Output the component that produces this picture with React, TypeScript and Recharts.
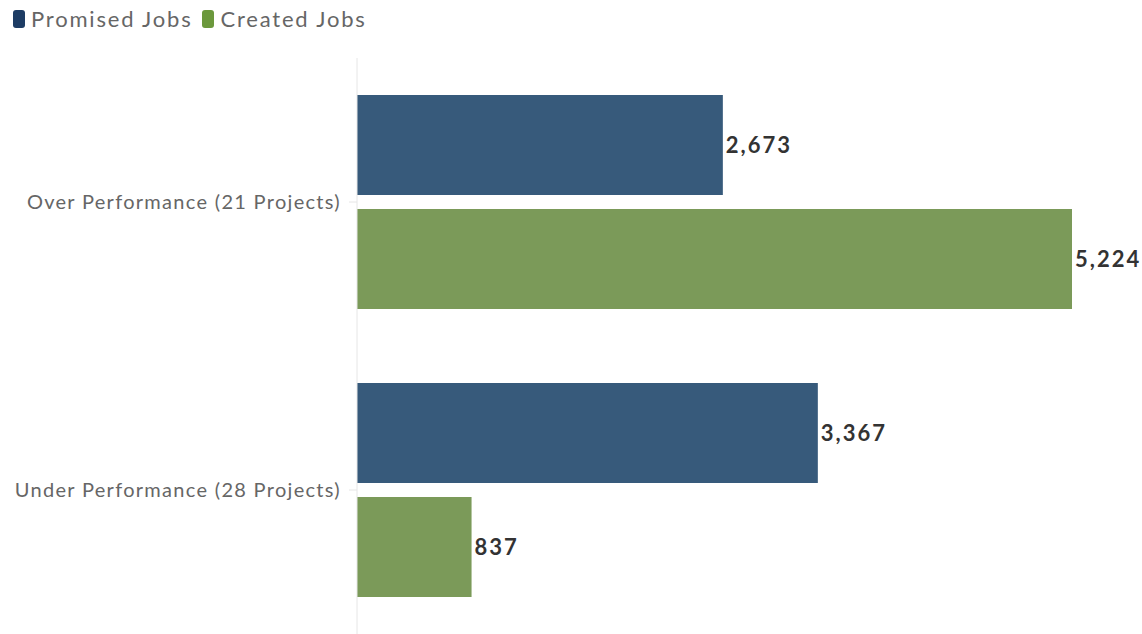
import { BarChart, Bar, XAxis, YAxis, LabelList } from 'recharts';

const categories = ['Over Performance (21 Projects)', 'Under Performance (28 Projects)'];
const promisedJobs = [2673, 3367];
const createdJobs = [5224, 837];

const PROMISED = '#375a7b';
const CREATED = '#7b9a59';
const PROMISED_KEY = '#1d3c64';
const CREATED_KEY = '#6b983c';
const FONT = 'Lato, "Open Sans", sans-serif';

const data = categories.map((name, i) => ({
  name,
  promised: promisedJobs[i],
  created: createdJobs[i],
}));

const fmt = (v: unknown) => Number(v).toLocaleString('en-US');

const legendItems = [
  { label: 'Promised Jobs', color: PROMISED_KEY },
  { label: 'Created Jobs', color: CREATED_KEY },
];

export default function App() {
  return (
    <div style={{ position: 'absolute', left: 0, top: 0, width: 1142, height: 634, background: '#fff', fontFamily: FONT }}>
      <div style={{ position: 'absolute', left: 13, top: 5, display: 'flex', alignItems: 'center', gap: 10, fontSize: 22, letterSpacing: 1.8, color: '#666' }}>
        {legendItems.map((it) => (
          <span key={it.label} style={{ display: 'flex', alignItems: 'center' }}>
            <span style={{ display: 'inline-block', width: 12, height: 18, borderRadius: 3, background: it.color, marginRight: 6 }} />
            {it.label}
          </span>
        ))}
      </div>
      <BarChart
        width={1142}
        height={634}
        data={data}
        layout="vertical"
        margin={{ top: 58, right: 70, bottom: 0, left: 0 }}
        barCategoryGap={37}
        barGap={14}
      >
        <XAxis type="number" hide domain={[0, 'dataMax']} />
        <YAxis
          type="category"
          dataKey="name"
          width={357}
          axisLine={{ stroke: '#e6e6e6' }}
          tickLine={{ stroke: '#e6e6e6' }}
          tickSize={8}
          tickMargin={8}
          tick={{ fill: '#666', fontSize: 20, fontFamily: FONT, letterSpacing: 1.3 }}
        />
        <Bar dataKey="promised" name="Promised Jobs" fill={PROMISED} isAnimationActive={false}>
          <LabelList dataKey="promised" position="right" offset={3} formatter={fmt} fill="#333" fontSize={22} fontWeight={700} fontFamily={FONT} letterSpacing={2} />
        </Bar>
        <Bar dataKey="created" name="Created Jobs" fill={CREATED} isAnimationActive={false}>
          <LabelList dataKey="created" position="right" offset={3} formatter={fmt} fill="#333" fontSize={22} fontWeight={700} fontFamily={FONT} letterSpacing={2} />
        </Bar>
      </BarChart>
    </div>
  );
}
